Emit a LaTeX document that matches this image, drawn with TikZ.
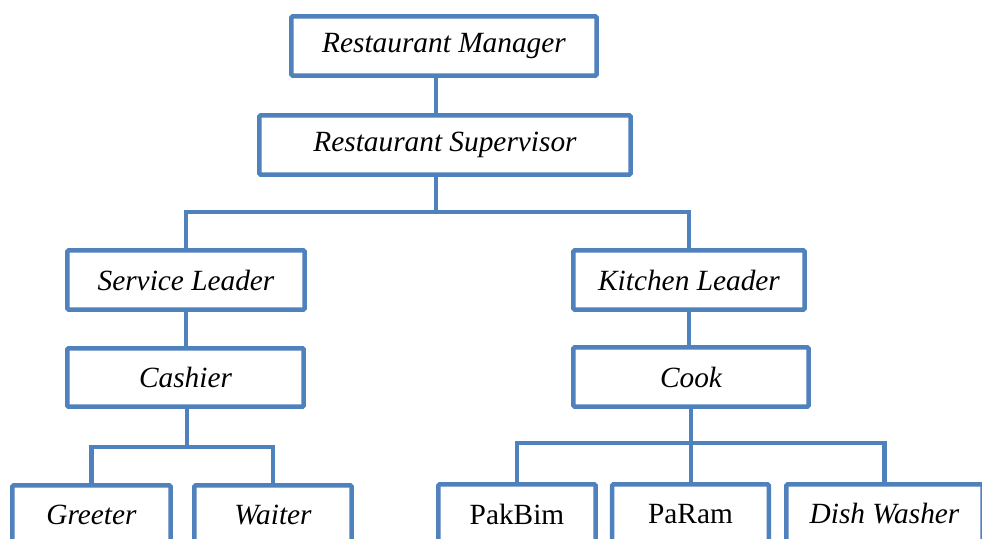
\documentclass[tikz,border=0pt]{standalone}
\usepackage{fontspec}
\setmainfont{Liberation Serif}
\definecolor{orgblue}{RGB}{79,129,189}
\tikzset{
  post/.style={draw=orgblue,line width=3.4pt,rounded corners=1pt,fill=white,
    minimum height=44.5pt,inner sep=0pt,font=\fontsize{22}{26}\selectfont\itshape},
  link/.style={draw=orgblue,line width=3.4pt}
}
\begin{document}
\begin{tikzpicture}[x=0.75pt,y=-0.75pt]
        \useasboundingbox (0,0) rectangle (982,539);
        \clip (0,0) rectangle (982,539);
        \node[post,minimum width=229pt] (mgr) at (444,46) {Restaurant Manager};
        \node[post,minimum width=278.5pt] (sup) at (445,145) {Restaurant Supervisor};
        \node[post,minimum width=178pt] (svc) at (186,280) {Service Leader};
        \node[post,minimum width=173.5pt] (kit) at (689,280) {Kitchen Leader};
        \node[post,minimum width=177.3pt,minimum height=43.8pt] (cash) at (185.5,377.5) {Cashier};
        \node[post,minimum width=176.5pt] (cook) at (691,377) {Cook};
        \node[post,minimum width=118.8pt] (greet) at (91.5,515) {Greeter};
        \node[post,minimum width=118pt] (wait) at (273,515) {Waiter};
        \node[post,minimum width=118pt] (pak) at (517,514) {\upshape PakBim};
        \node[post,minimum width=117.5pt] (param) at (690.5,514) {\upshape PaRam};
        \node[post,minimum width=147.3pt] (dish) at (884.5,514) {Dish Washer};
        \coordinate (hub) at (436,212);
        \coordinate (hubA) at (187,447);
        \coordinate (hubB) at (691,443);
        \draw[link] (mgr.south -| hub) -- (sup.north -| hub);
        \draw[link] (sup.south -| hub) -- (hub);
        \draw[link] (svc.north) |- (hub) -| (kit.north);
        \draw[link] (svc.south) -- (svc.south |- cash.north);
        \draw[link] (kit.south) -- (kit.south |- cook.north);
        \draw[link] (cash.south -| hubA) -- (hubA);
        \draw[link] (greet.north) |- (hubA) -| (wait.north);
        \draw[link] (cook.south -| hubB) -- (param.north -| hubB);
        \draw[link] (pak.north) |- (hubB) -| (dish.north);
\end{tikzpicture}
\end{document}
